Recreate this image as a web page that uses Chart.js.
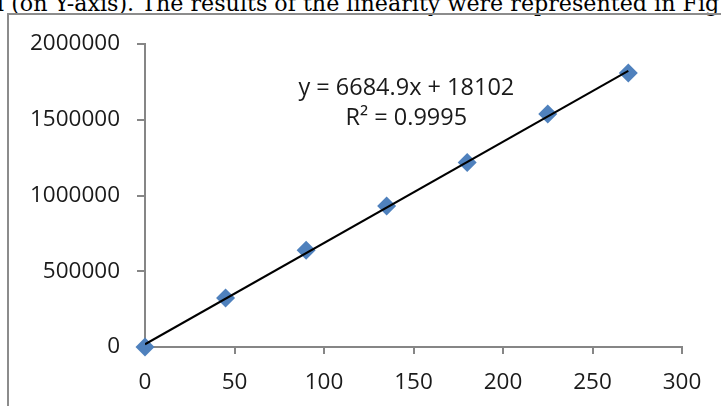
<!DOCTYPE html>
<html>
<head>
<meta charset="utf-8">
<script src="https://cdn.jsdelivr.net/npm/chart.js@4/dist/chart.umd.min.js"></script>
<style>
  html, body { margin: 0; padding: 0; background: #fff; overflow: hidden; }
  #page { position: relative; width: 721px; height: 406px; overflow: hidden; }
  #caption {
    position: absolute; left: -3px; top: -8px;
    font: 22.2px/22.2px "DejaVu Serif", serif; color: #000;
    white-space: nowrap;
  }
  #frame {
    position: absolute; left: 7px; top: 13px; width: 800px; height: 500px;
    border: 2px solid #8c8c8c;
  }
  #chart { position: absolute; left: 0; top: 0; }
</style>
</head>
<body>
<div id="page">
  <div id="caption">l (on Y-axis). The results of the linearity were represented in Fig</div>
  <div id="frame"></div>
  <canvas id="chart" width="721" height="406"></canvas>
</div>
<script>
// calibration points
const concentration = [0, 45, 90, 135, 180, 225, 270];
const response = [0, 324000, 639000, 930000, 1218000, 1538000, 1808000];

// fitted trendline, as printed on the chart
const slope = 6684.9;
const intercept = 18102;
const rSquared = 0.9995;

const xTicks = [0, 50, 100, 150, 200, 250, 300];
const yTicks = [0, 500000, 1000000, 1500000, 2000000];

const axisColor = '#868686';
const textColor = '#1a1a1a';
const tickFont = { family: "'Open Sans', sans-serif", size: 22.5 };

const points = concentration.map((x, i) => ({ x: x, y: response[i] }));
const xFirst = concentration[0];
const xLast = concentration[concentration.length - 1];
const trend = [
  { x: xFirst, y: slope * xFirst + intercept },
  { x: xLast, y: slope * xLast + intercept },
];

// writes the regression equation and R² inside the plot
const equationLabel = {
  id: 'equationLabel',
  afterDatasetsDraw(chart) {
    const ctx = chart.ctx;
    const cx = chart.scales.x.getPixelForValue(146);
    const cy = chart.scales.y.getPixelForValue(1705000);
    ctx.save();
    ctx.fillStyle = textColor;
    ctx.font = "23.5px 'Open Sans', sans-serif";
    ctx.textAlign = 'center';
    ctx.textBaseline = 'middle';
    ctx.fillText('y = ' + slope + 'x + ' + intercept, cx, cy);
    ctx.fillText('R² = ' + rSquared, cx, cy + 30);
    ctx.restore();
  },
};

new Chart(document.getElementById('chart').getContext('2d'), {
  type: 'scatter',
  data: {
    datasets: [
      {
        type: 'line',
        label: 'Linear fit',
        data: trend,
        borderColor: '#000',
        borderWidth: 2,
        pointRadius: 0,
        fill: false,
      },
      {
        label: 'Response',
        data: points,
        pointStyle: 'rectRot',
        pointRadius: 9.5,
        pointBackgroundColor: '#4f81bd',
        pointBorderWidth: 0,
        clip: false,
      },
    ],
  },
  options: {
    responsive: false,
    animation: false,
    devicePixelRatio: 1,
    layout: { padding: { top: 44, right: 39, left: 0, bottom: 0 } },
    plugins: {
      legend: { display: false },
      tooltip: { enabled: false },
    },
    scales: {
      x: {
        type: 'linear',
        min: 0,
        max: 300,
        afterFit: (scale) => { scale.height = 59; },
        afterBuildTicks: (scale) => { scale.ticks = xTicks.map(v => ({ value: v })); },
        grid: { drawOnChartArea: false, tickLength: 7, color: axisColor, lineWidth: 2 },
        border: { color: axisColor, width: 2 },
        ticks: { color: textColor, font: tickFont, padding: 15, maxRotation: 0, callback: v => String(v) },
      },
      y: {
        type: 'linear',
        min: 0,
        max: 2000000,
        afterFit: (scale) => { scale.width = 145; },
        afterBuildTicks: (scale) => { scale.ticks = yTicks.map(v => ({ value: v })); },
        grid: { drawOnChartArea: false, tickLength: 8, color: axisColor, lineWidth: 2 },
        border: { color: axisColor, width: 2 },
        ticks: { color: textColor, font: tickFont, padding: 17, callback: v => String(v) },
      },
    },
  },
  plugins: [equationLabel],
});
</script>
</body>
</html>
